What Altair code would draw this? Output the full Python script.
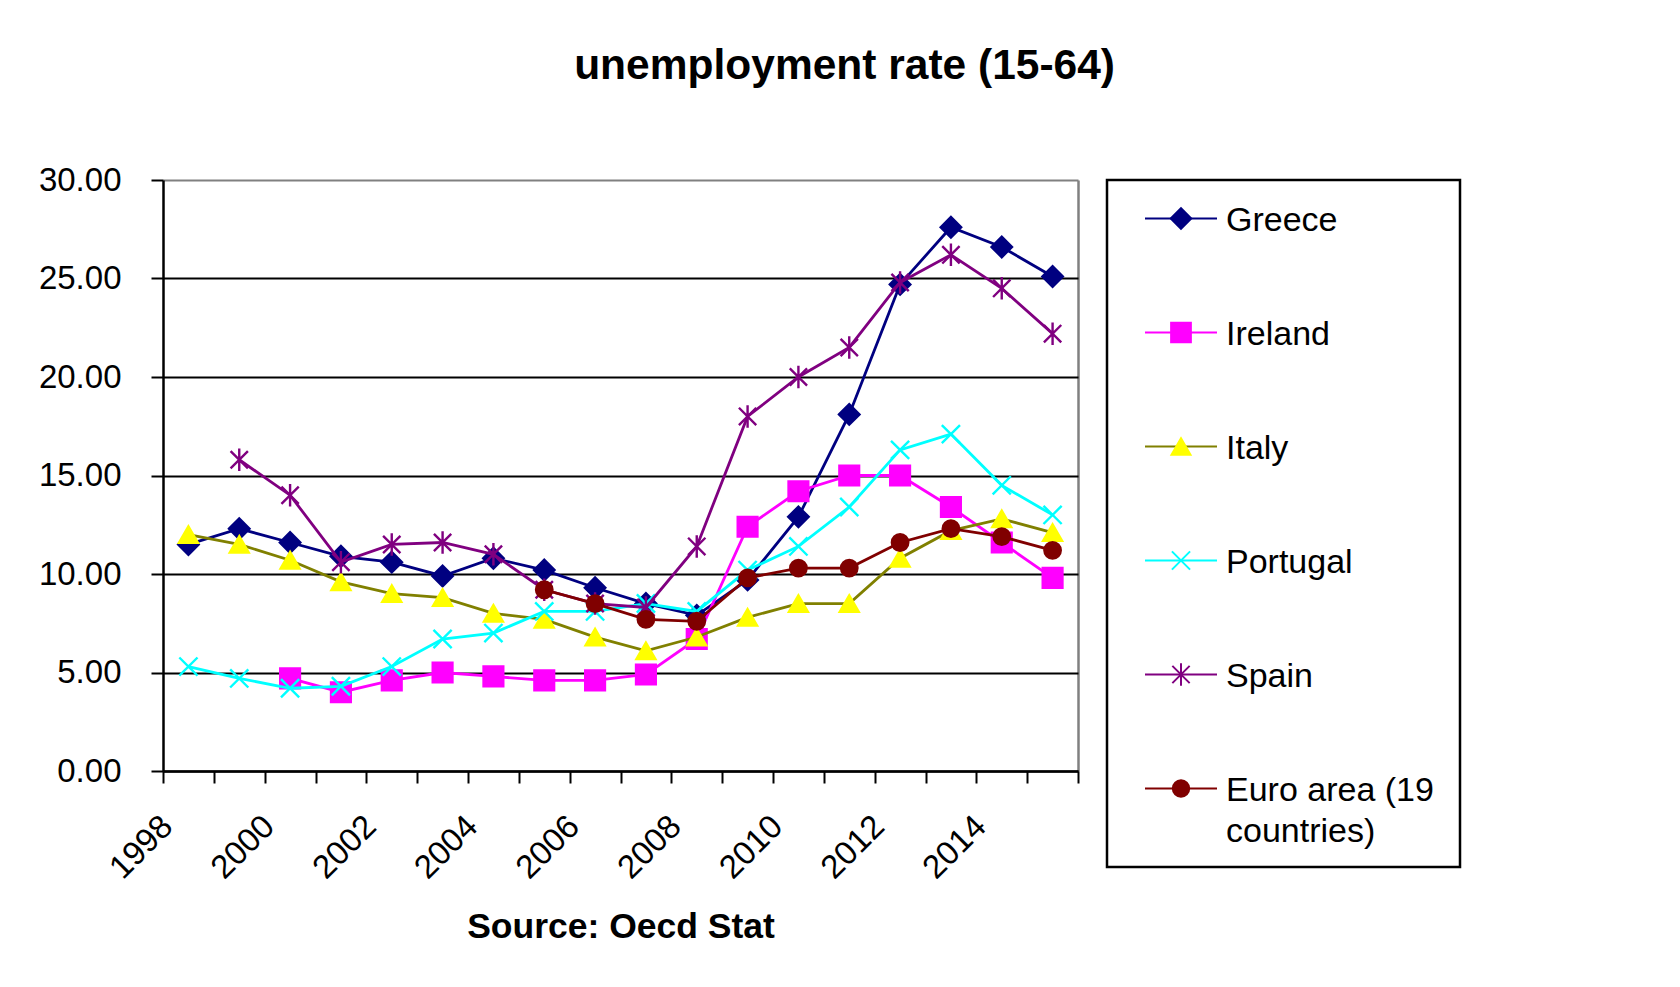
import altair as alt
import pandas as pd

years = list(range(1998, 2016))
series_names = ["Greece", "Ireland", "Italy", "Portugal", "Spain", "Euro area (19 countries)"]
legend_labels = ["Greece", "Ireland", "Italy", "Portugal", "Spain", "Euro area (19\ncountries)"]

greece = [11.5, 12.3, 11.6, 10.9, 10.6, 9.9, 10.8, 10.2, 9.3, 8.5, 7.9, 9.7, 12.9, 18.1, 24.7, 27.6, 26.6, 25.1]
ireland = [None, None, 4.7, 4.0, 4.6, 5.0, 4.8, 4.6, 4.6, 4.9, 6.7, 12.4, 14.2, 15.0, 15.0, 13.4, 11.6, 9.8]
italy = [12.0, 11.5, 10.7, 9.6, 9.0, 8.8, 8.0, 7.7, 6.8, 6.1, 6.8, 7.8, 8.5, 8.5, 10.8, 12.2, 12.8, 12.1]
portugal = [5.3, 4.7, 4.2, 4.3, 5.3, 6.7, 7.0, 8.1, 8.1, 8.5, 8.1, 10.2, 11.4, 13.4, 16.3, 17.1, 14.5, 13.0]
spain = [None, 15.8, 14.0, 10.6, 11.5, 11.6, 11.0, 9.2, 8.5, 8.3, 11.4, 18.0, 20.0, 21.5, 24.8, 26.2, 24.5, 22.2]
euro = [None, None, None, None, None, None, None, 9.2, 8.5, 7.7, 7.6, 9.8, 10.3, 10.3, 11.6, 12.3, 11.9, 11.2]

y_ticks = [0, 5, 10, 15, 20, 25, 30]
x_ticks = list(range(1998, 2017))

line_colors = ["#000080", "#FF00FF", "#808000", "#00FFFF", "#800080", "#800000"]
marker_colors = ["#000080", "#FF00FF", "#FFFF00", "#00FFFF", "#800080", "#800000"]
marker_shapes = ["diamond", "square", "triangle-up",
                 "M-1,-1L1,1M-1,1L1,-1",
                 "M-1,-1L1,1M-1,1L1,-1M0,-1.3L0,1.3",
                 "circle"]
marker_sizes = [420, 270, 340, 290, 290, 300]
legend_sizes = [300, 220, 280, 210, 210, 240]

FONT = "Liberation Sans"

rows = []
for name, vals in zip(series_names, [greece, ireland, italy, portugal, spain, euro]):
    for yr, v in zip(years, vals):
        if v is not None:
            rows.append({"series": name, "year": yr, "value": v})
df = pd.DataFrame(rows)

color_scale = alt.Scale(domain=series_names, range=line_colors)
fill_scale = alt.Scale(domain=series_names, range=marker_colors)
shape_scale = alt.Scale(domain=series_names, range=marker_shapes)
size_scale = alt.Scale(domain=series_names, range=marker_sizes)
lsize_scale = alt.Scale(domain=series_names, range=legend_sizes)

x_enc = alt.X(
    "xpos:Q",
    scale=alt.Scale(domain=[1998, 2016], nice=False, zero=False),
    axis=alt.Axis(
        values=x_ticks,
        labelExpr="(datum.value % 2 == 0 && datum.value <= 2014) ? '' + datum.value : ''",
        labelAngle=-45, labelAlign="right", labelBaseline="middle",
        labelFontSize=33, labelFont=FONT, labelColor="black",
        labelPadding=38, labelOffset=4, labelOverlap=False, labelBound=False, labelFlush=False,
        tickSize=12, tickWidth=2, tickColor="black",
        domainColor="black", domainWidth=2.5,
        grid=True, gridColor="#808080", gridWidth=2.5,
        gridOpacity={"condition": {"test": "datum.value == 2016", "value": 1}, "value": 0},
        title="Source: Oecd Stat", titleFontSize=35.5, titleFont=FONT, titleFontWeight="bold",
        titleColor="black", titlePadding=25,
    ),
)
y_enc = alt.Y(
    "value:Q",
    title=None,
    scale=alt.Scale(domain=[0, 30], nice=False),
    axis=alt.Axis(
        values=y_ticks, format=".2f",
        labelFontSize=33, labelFont=FONT, labelColor="black", labelPadding=30,
        tickSize=12, tickWidth=2, tickColor="black",
        domainColor="black", domainWidth=2.5,
        grid=True, gridWidth=2.2,
        gridColor={"condition": {"test": "datum.value == 30", "value": "#808080"}, "value": "black"},
    ),
)

base = alt.Chart(df).transform_calculate(xpos="datum.year + 0.5")

layers = []
for name in series_names:
    b = base.transform_filter(alt.datum.series == name)
    layers.append(
        b.mark_line(strokeWidth=2.8).encode(
            x=x_enc, y=y_enc,
            color=alt.Color("series:N", scale=color_scale, legend=None),
        )
    )
    layers.append(
        b.mark_point(filled=True, strokeWidth=2.4, opacity=1).encode(
            x=x_enc, y=y_enc,
            shape=alt.Shape("series:N", scale=shape_scale, legend=None),
            fill=alt.Fill("series:N", scale=fill_scale, legend=None),
            stroke=alt.Stroke("series:N", scale=fill_scale, legend=None),
            size=alt.Size("series:N", scale=size_scale, legend=None),
        )
    )

main = alt.layer(*layers).properties(
    width=915, height=591, view=alt.ViewBackground(stroke="transparent")
)

legend_df = pd.DataFrame({"series": series_names, "label": legend_labels})
ly = alt.Y("series:N",
           scale=alt.Scale(type="point", domain=series_names, range=[38.5, 608.5], padding=0),
           axis=None)
lbase = alt.Chart(legend_df)
leg_rule = lbase.mark_rule(strokeWidth=2.2).encode(
    x=alt.value(38), x2=alt.value(110), y=ly,
    color=alt.Color("series:N", scale=color_scale, legend=None),
)
leg_pts = lbase.mark_point(filled=True, strokeWidth=2, opacity=1).encode(
    x=alt.value(74), y=ly,
    shape=alt.Shape("series:N", scale=shape_scale, legend=None),
    fill=alt.Fill("series:N", scale=fill_scale, legend=None),
    stroke=alt.Stroke("series:N", scale=fill_scale, legend=None),
    size=alt.Size("series:N", scale=lsize_scale, legend=None),
)
leg_txt = lbase.mark_text(
    align="left", baseline="alphabetic", dy=12, lineBreak="\n", lineHeight=41.5,
    fontSize=34, font=FONT, color="black",
).encode(x=alt.value(119), y=ly, text="label:N")

legend = alt.layer(leg_rule, leg_pts, leg_txt).properties(
    width=353, height=687, view=alt.ViewBackground(stroke="black", strokeWidth=2.5)
)

chart = alt.hconcat(
    main, legend, spacing=29, bounds="flush",
    padding={"left": 29, "top": 37, "right": 10, "bottom": 10},
    title=alt.TitleParams(
        "unemployment rate (15-64)", fontSize=42.5, font=FONT, fontWeight="bold",
        color="black", anchor="middle", dx=95, offset=76,
    ),
).resolve_scale(color="shared", fill="shared", stroke="shared", shape="shared").configure(
    font=FONT
)

chart.save("out.html", embed_options={"renderer": "svg", "actions": False})
